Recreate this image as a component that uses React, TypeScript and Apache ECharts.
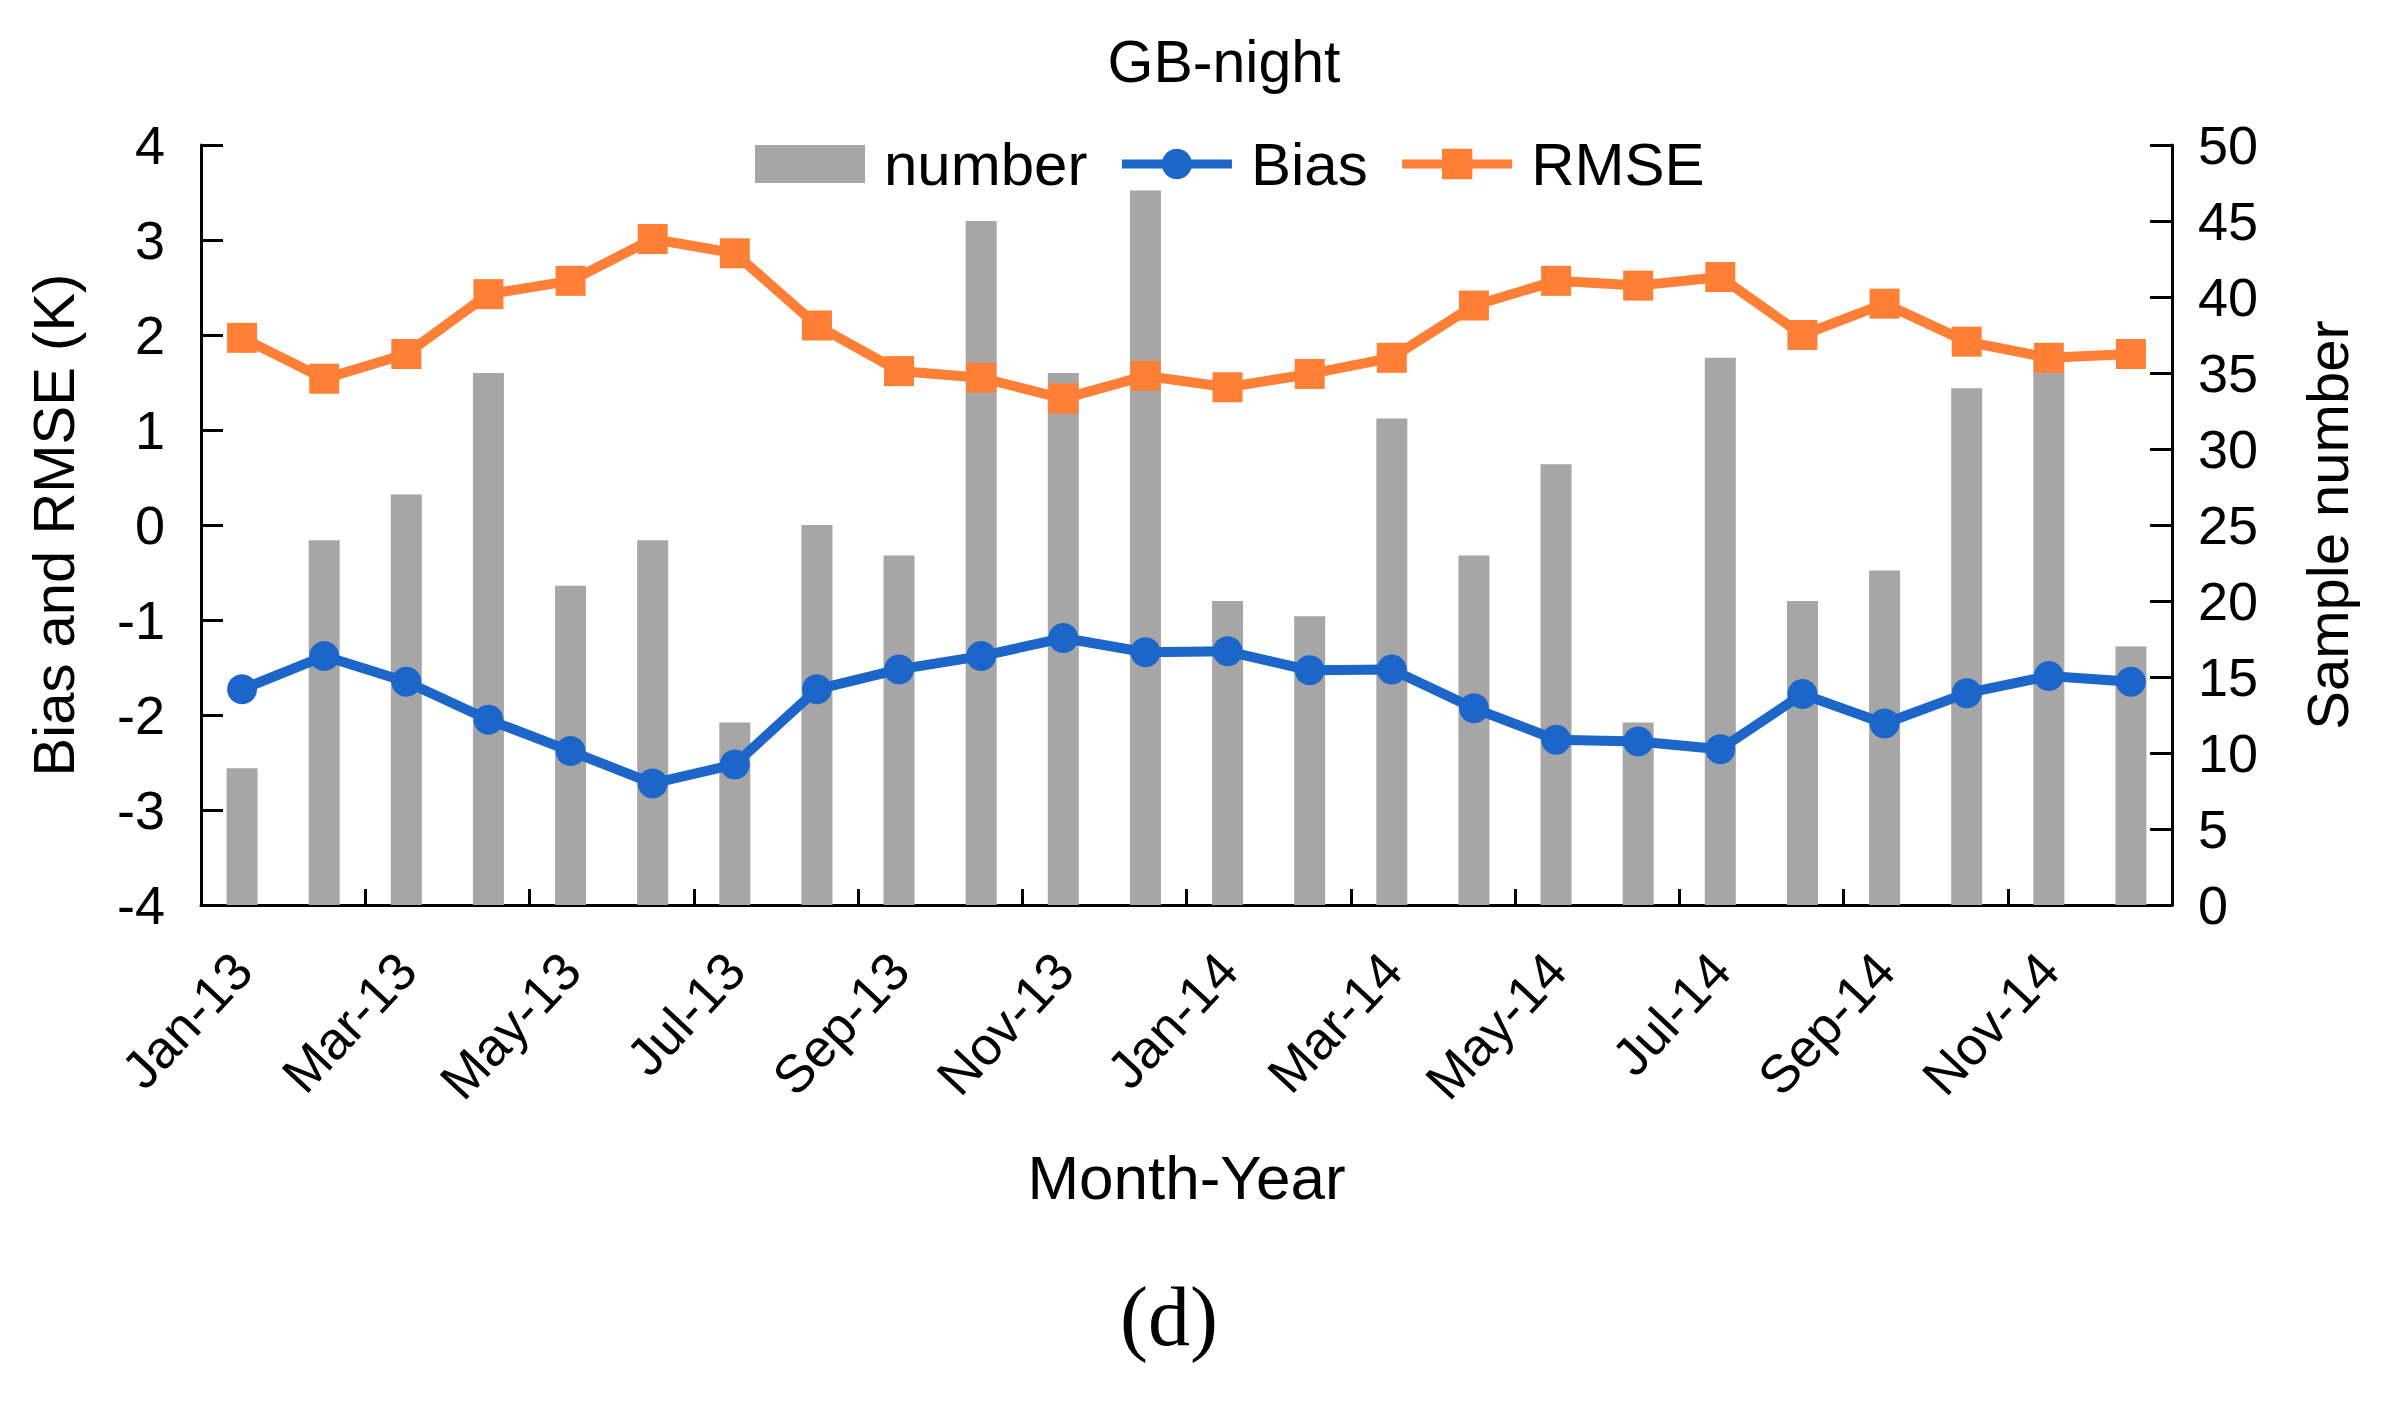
import React, { useEffect, useRef } from "react";
import * as echarts from "echarts";

const categories = [
  "Jan-13", "Feb-13", "Mar-13", "Apr-13", "May-13", "Jun-13", "Jul-13", "Aug-13", "Sep-13", "Oct-13", "Nov-13", "Dec-13",
  "Jan-14", "Feb-14", "Mar-14", "Apr-14", "May-14", "Jun-14", "Jul-14", "Aug-14", "Sep-14", "Oct-14", "Nov-14", "Dec-14",
];
const sampleNumber = [9, 24, 27, 35, 21, 24, 12, 25, 23, 45, 35, 47, 20, 19, 32, 23, 29, 12, 36, 20, 22, 34, 36, 17];
const bias = [-1.73, -1.38, -1.65, -2.05, -2.38, -2.72, -2.52, -1.73, -1.52, -1.38, -1.19, -1.34, -1.33, -1.53, -1.52, -1.93, -2.26, -2.28, -2.36, -1.78, -2.09, -1.77, -1.59, -1.65];
const rmse = [1.97, 1.54, 1.8, 2.43, 2.57, 3.01, 2.86, 2.1, 1.62, 1.55, 1.33, 1.57, 1.45, 1.59, 1.76, 2.31, 2.57, 2.52, 2.61, 2.0, 2.33, 1.93, 1.76, 1.8];

const FONT = "'Liberation Sans', Arial, sans-serif";
const BLUE = "#1b66c8";
const ORANGE = "#ff7f36";
const GRAY = "#a6a6a6";

export default function App() {
  const ref = useRef<HTMLDivElement>(null);
  useEffect(() => {
    const chart = echarts.init(ref.current!, null, { renderer: "svg" });
    const axisLine = { show: true, onZero: false, lineStyle: { color: "#000", width: 3 } };
    chart.setOption({
      animation: false,
      backgroundColor: "#fff",
      title: [
        {
          text: "GB-night",
          left: 1219,
          top: 27,
          textAlign: "center",
          textStyle: { fontFamily: FONT, fontSize: 59, fontWeight: "normal", color: "#000" },
        },
        {
          text: "(d)",
          left: 1164,
          top: 1269,
          textAlign: "center",
          textStyle: { fontFamily: "'Liberation Serif', 'Times New Roman', serif", fontSize: 84, fontWeight: "normal", color: "#000" },
        },
      ],
      legend: {
        left: 750,
        top: 129,
        itemWidth: 110,
        itemHeight: 38,
        itemGap: 30,
        lineStyle: { width: 9 },
        textStyle: { fontFamily: FONT, fontSize: 60, color: "#000", padding: [0, 0, 0, 14] },
        data: [{ name: "number", icon: "rect" }, { name: "Bias" }, { name: "RMSE" }],
      },
      grid: { left: 201, right: 212, top: 145, bottom: 518, containLabel: false },
      xAxis: {
        type: "category",
        data: categories,
        boundaryGap: true,
        axisLine,
        axisTick: { show: true, inside: true, length: 16, interval: 1, lineStyle: { color: "#000", width: 3 } },
        axisLabel: {
          interval: 1,
          rotate: 47,
          margin: 56,
          fontFamily: FONT,
          fontSize: 53,
          color: "#000",
        },
        name: "Month-Year",
        nameLocation: "middle",
        nameGap: 241,
        nameTextStyle: { fontFamily: FONT, fontSize: 62, color: "#000" },
        splitLine: { show: false },
      },
      yAxis: [
        {
          type: "value",
          min: -4,
          max: 4,
          interval: 1,
          axisLine,
          axisTick: { show: true, inside: true, length: 22, lineStyle: { color: "#000", width: 3 } },
          axisLabel: { fontFamily: FONT, fontSize: 54, color: "#000", margin: 36 },
          splitLine: { show: false },
          name: "Bias and RMSE (K)",
          nameLocation: "middle",
          nameGap: 119,
          nameTextStyle: { fontFamily: FONT, fontSize: 58, color: "#000" },
        },
        {
          type: "value",
          min: 0,
          max: 50,
          interval: 5,
          position: "right",
          axisLine,
          axisTick: { show: true, inside: true, length: 22, lineStyle: { color: "#000", width: 3 } },
          axisLabel: { fontFamily: FONT, fontSize: 54, color: "#000", margin: 26 },
          splitLine: { show: false },
          name: "Sample number",
          nameLocation: "middle",
          nameGap: 126,
          nameRotate: 90,
          nameTextStyle: { fontFamily: FONT, fontSize: 58, color: "#000" },
        },
      ],
      series: [
        {
          name: "number",
          type: "bar",
          yAxisIndex: 1,
          data: sampleNumber,
          barWidth: 31,
          itemStyle: { color: GRAY },
          z: 1,
        },
        {
          name: "Bias",
          type: "line",
          yAxisIndex: 0,
          data: bias,
          symbol: "circle",
          symbolSize: 30,
          lineStyle: { color: BLUE, width: 10 },
          itemStyle: { color: BLUE },
          z: 3,
        },
        {
          name: "RMSE",
          type: "line",
          yAxisIndex: 0,
          data: rmse,
          symbol: "rect",
          symbolSize: 30,
          lineStyle: { color: ORANGE, width: 10 },
          itemStyle: { color: ORANGE },
          z: 4,
        },
      ],
    });
    return () => chart.dispose();
  }, []);
  return <div ref={ref} style={{ position: "fixed", left: 0, top: 0, width: 2384, height: 1423 }} />;
}
